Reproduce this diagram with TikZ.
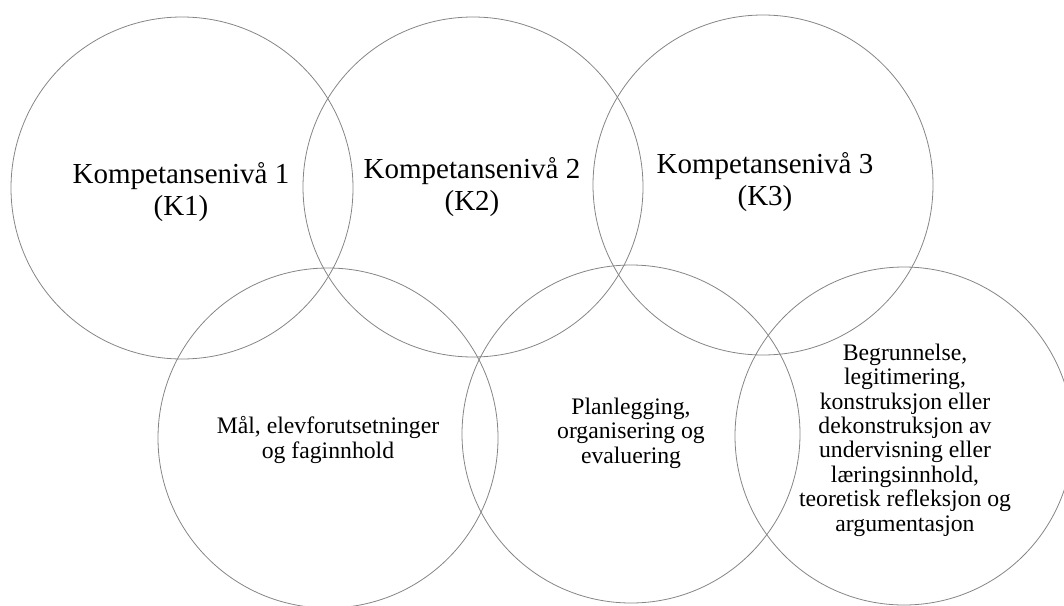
\documentclass[tikz,border=0pt]{standalone}
\usepackage{fontspec}
\newfontfamily\tnr{Liberation Serif}
\begin{document}
\begin{tikzpicture}[x=1pt,y=-1pt,
  ring/.style={circle, draw=black!48, line width=0.8pt, inner sep=0pt, minimum size=#1},
  bigtxt/.style={anchor=base, align=center, inner sep=0pt, font=\tnr\fontsize{29}{32}\selectfont},
  smalltxt/.style={anchor=base, align=center, inner sep=0pt, font=\tnr\fontsize{23.7}{24.4}\selectfont}]
\useasboundingbox (0,0) rectangle (1064,605);
\clip (0,0) rectangle (1064,605);
\node[ring=342pt] (c1) at (182,188) {};
\node[ring=340pt] (c2) at (473,187) {};
\node[ring=340pt] (c3) at (763,185) {};
\node[ring=340pt] (c4) at (328,438) {};
\node[ring=338pt] (c5) at (631,434) {};
\node[ring=338pt] (c6) at (904,436) {};
\node[bigtxt] (t1) at (181,215) {Kompetansenivå 1\\(K1)};
\node[bigtxt] (t2) at (472,210) {Kompetansenivå 2\\(K2)};
\node[bigtxt] (t3) at (765,205) {Kompetansenivå 3\\(K3)};
\node[smalltxt] (t4) at (328,458) {Mål, elevforutsetninger\\og faginnhold};
\node[smalltxt] (t5) at (631,463) {Planlegging,\\organisering og\\evaluering};
\node[smalltxt] (t6) at (905,531) {Begrunnelse,\\legitimering,\\konstruksjon eller\\dekonstruksjon av\\undervisning eller\\læringsinnhold,\\teoretisk refleksjon og\\argumentasjon};
\end{tikzpicture}
\end{document}
